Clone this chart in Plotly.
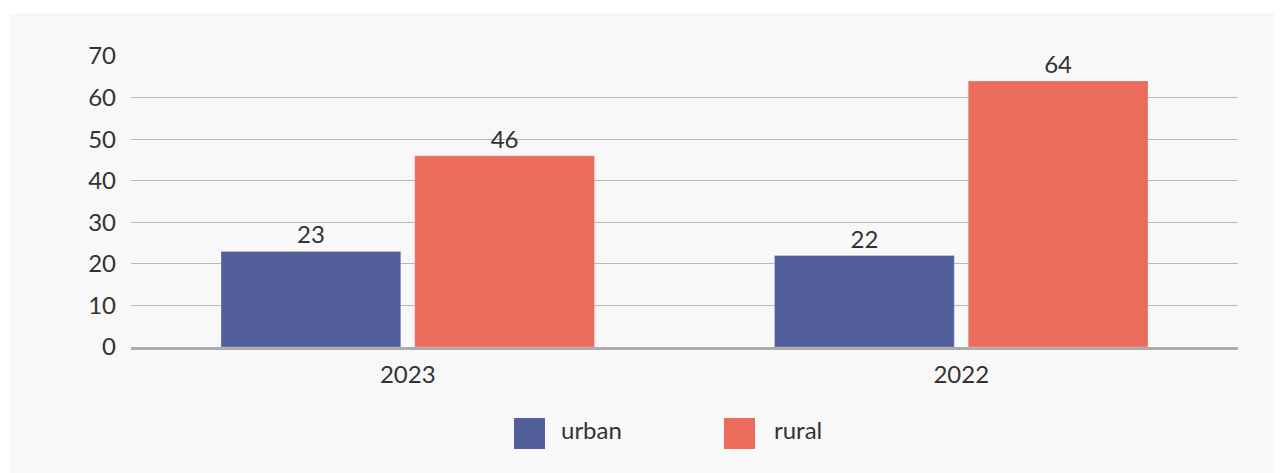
import plotly.graph_objects as go

categories = ["2023", "2022"]
urban = [23, 22]
rural = [46, 64]
series_names = ["urban", "rural"]
colors = ["#535f9b", "#eb6b5c"]
y_ticks = [0, 10, 20, 30, 40, 50, 60, 70]

OFF = 8  # page body margin
W, H = 1282 - OFF, 473 - OFF
L, R, T, B = 131 - OFF, 44, 56 - OFF, 126
pw, ph = W - L - R, H - T - B

def px(x):
    return (x - OFF - L) / pw

def py(y):
    return (H - B - (y - OFF)) / ph

FONT = "Lato"
TXT = "#333333"
FS = 24

fig = go.Figure()
for name, vals, col in zip(series_names, [urban, rural], colors):
    fig.add_trace(go.Bar(
        x=categories, y=vals, name=name,
        marker=dict(color=col, line=dict(width=1, color="rgba(255,255,255,0.25)")),
        text=[str(v) for v in vals], textposition="outside",
        textfont=dict(size=FS, color=TXT, family=FONT),
        cliponaxis=False, showlegend=False,
    ))

shapes = [dict(type="rect", xref="paper", yref="paper",
               x0=px(9), x1=px(1290), y0=py(480), y1=py(13),
               fillcolor="#f8f8f8", line=dict(width=0), layer="below")]
annotations = []
legend_pos = [(514, 560), (724, 773)]
for (sx, tx), name, col in zip(legend_pos, series_names, colors):
    shapes.append(dict(type="rect", xref="paper", yref="paper",
                       x0=px(sx), x1=px(sx + 31), y0=py(449), y1=py(418),
                       fillcolor=col, line=dict(width=0)))
    annotations.append(dict(xref="paper", yref="paper", x=px(tx - 1), y=py(430),
                            text=name, showarrow=False, xanchor="left", yanchor="middle",
                            font=dict(size=FS, color=TXT, family=FONT)))

fig.update_layout(
    width=W, height=H,
    margin=dict(l=L, r=R, t=T, b=B),
    paper_bgcolor="white", plot_bgcolor="rgba(0,0,0,0)",
    barmode="group", bargap=0.3, bargroupgap=0.072,
    font=dict(family=FONT, size=FS, color=TXT),
    shapes=shapes, annotations=annotations,
    showlegend=False,
)
fig.update_yaxes(range=[0, 70], tickvals=y_ticks, showgrid=True, gridcolor="#b8b8b8",
                 gridwidth=1, zeroline=False, showline=False, ticks="",
                 ticklabelstandoff=14, tickfont=dict(size=FS, color=TXT, family=FONT))
fig.update_xaxes(showline=True, linecolor="#acacac", linewidth=3, ticks="",
                 ticklabelstandoff=4, tickfont=dict(size=FS, color=TXT, family=FONT))

fig.write_html("out.html")
